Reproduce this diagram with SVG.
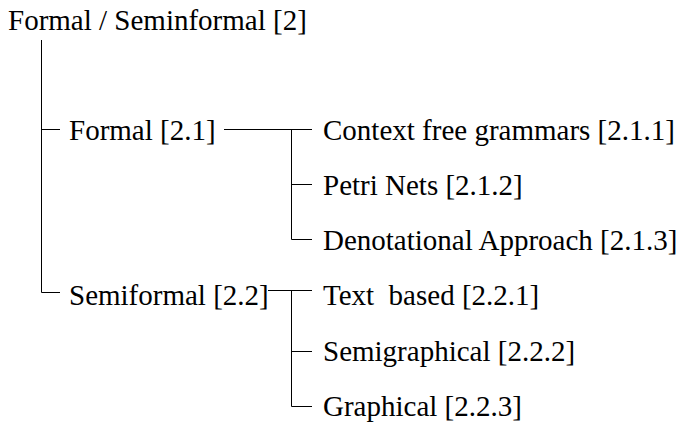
<svg xmlns="http://www.w3.org/2000/svg" width="685" height="423" viewBox="0 0 685 423">
  <style>
    .lbl { font-family: 'Liberation Serif', 'Times New Roman', Times, serif; font-size: 29px; fill: #000; }
    .conn { fill: none; stroke: #000; stroke-width: 1; }
  </style>
  <rect width="685" height="423" fill="#fff"/>
  <g id="connectors">
    <!-- root trunk with its two branches -->
    <path class="conn" d="M41.5 40 V292.5 H60"/>
    <path class="conn" d="M41.5 129.5 H60"/>
    <!-- Formal branch -->
    <path class="conn" d="M224 129.5 H312"/>
    <path class="conn" d="M291.5 129.5 V239.5 H312"/>
    <path class="conn" d="M291.5 184.5 H312"/>
    <!-- Semiformal branch -->
    <path class="conn" d="M268 290.5 H312"/>
    <path class="conn" d="M291.5 290.5 V406.5 H312"/>
    <path class="conn" d="M291.5 351.5 H312"/>
  </g>
  <g id="root"><text class="lbl" x="8" y="30">Formal / Seminformal [2]</text></g>
  <g id="formal"><text class="lbl" x="69" y="140">Formal [2.1]</text></g>
  <g id="cfg"><text class="lbl" x="323" y="140">Context free grammars [2.1.1]</text></g>
  <g id="petri"><text class="lbl" x="323" y="195">Petri Nets [2.1.2]</text></g>
  <g id="denotational"><text class="lbl" x="323" y="250">Denotational Approach [2.1.3]</text></g>
  <g id="semiformal"><text class="lbl" x="69" y="305">Semiformal [2.2]</text></g>
  <g id="textbased"><text class="lbl" x="323" y="305" xml:space="preserve">Text  based [2.2.1]</text></g>
  <g id="semigraphical"><text class="lbl" x="323" y="361">Semigraphical [2.2.2]</text></g>
  <g id="graphical"><text class="lbl" x="323" y="416">Graphical [2.2.3]</text></g>
</svg>
